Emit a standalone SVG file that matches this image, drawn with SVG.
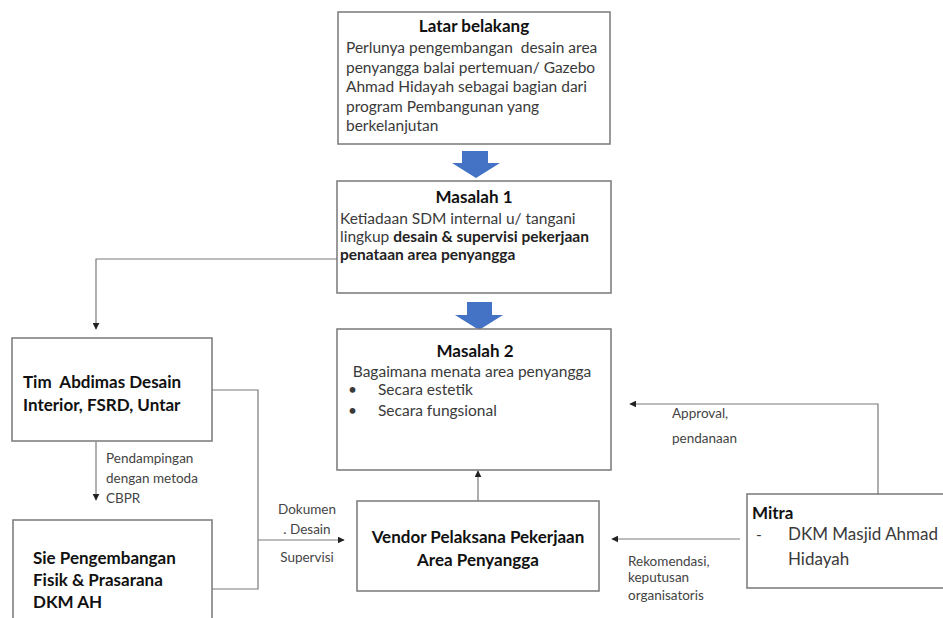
<svg xmlns="http://www.w3.org/2000/svg" width="943" height="618" viewBox="0 0 943 618">
<style>
.box{fill:#fff;stroke:#808080;stroke-width:1.6}
.t{font-family:Lato,"Liberation Sans",sans-serif;fill:#3a3a3a;font-size:15.5px}
.b{font-family:Lato,"Liberation Sans",sans-serif;fill:#111;font-size:17px;font-weight:bold}
.bb{font-weight:bold;fill:#222}
.lbl{font-family:Lato,"Liberation Sans",sans-serif;fill:#444;font-size:13.5px}
.c{fill:none;stroke:#7a7a7a;stroke-width:1.2}
.blue{fill:#4472C4}
</style>
<defs>
<marker id="ah" viewBox="0 0 10 10" refX="9" refY="5" markerWidth="7" markerHeight="7" markerUnits="userSpaceOnUse" orient="auto">
<path d="M0,0 L10,5 L0,10 z" fill="#222"/>
</marker>
</defs>
<rect width="943" height="618" fill="#fff"/>

<g id="latar">
<rect class="box" x="338" y="12" width="272" height="132"/>
<text class="b" x="474" y="32" text-anchor="middle">Latar belakang</text>
<text class="t" x="346" y="53" xml:space="preserve">Perlunya pengembangan  desain area</text>
<text class="t" x="346" y="73">penyangga balai pertemuan/ Gazebo</text>
<text class="t" x="346" y="92">Ahmad Hidayah sebagai bagian dari</text>
<text class="t" x="346" y="112">program Pembangunan yang</text>
<text class="t" x="346" y="131">berkelanjutan</text>
</g>

<g id="arrow1">
<path class="blue" d="M462,151 H488 V163 H500 L476,178 L452,163 H462 Z"/>
</g>

<g id="masalah1">
<rect class="box" x="337" y="181" width="274" height="112"/>
<text class="b" x="474" y="203" text-anchor="middle">Masalah 1</text>
<text class="t" x="340" y="224">Ketiadaan SDM internal u/ tangani</text>
<text class="t" x="340" y="242">lingkup <tspan class="bb">desain &amp; supervisi pekerjaan</tspan></text>
<text class="t bb" x="340" y="260">penataan area penyangga</text>
</g>

<g id="arrow2">
<path class="blue" d="M467,302 H492 V315 H503 L479,330 L455,315 H467 Z"/>
</g>

<g id="masalah2">
<rect class="box" x="337" y="329" width="274" height="141"/>
<text class="b" x="475" y="357" text-anchor="middle">Masalah 2</text>
<text class="t" x="472" y="377" text-anchor="middle">Bagaimana menata area penyangga</text>
<text class="t" x="348" y="395">•</text>
<text class="t" x="378" y="395">Secara estetik</text>
<text class="t" x="348" y="416">•</text>
<text class="t" x="378" y="416">Secara fungsional</text>
</g>

<g id="tim">
<rect class="box" x="12" y="338" width="200" height="103"/>
<text class="b" x="23" y="388" xml:space="preserve">Tim  Abdimas Desain</text>
<text class="b" x="23" y="411">Interior, FSRD, Untar</text>
</g>

<g id="sie">
<rect class="box" x="13" y="520" width="199" height="100"/>
<text class="b" x="33" y="564">Sie Pengembangan</text>
<text class="b" x="33" y="586">Fisik &amp; Prasarana</text>
<text class="b" x="33" y="608">DKM AH</text>
</g>

<g id="vendor">
<rect class="box" x="357" y="501" width="242" height="90"/>
<text class="b" x="478" y="543" text-anchor="middle">Vendor Pelaksana Pekerjaan</text>
<text class="b" x="478" y="566" text-anchor="middle">Area Penyangga</text>
</g>

<g id="mitra">
<rect class="box" x="747" y="494" width="205" height="94"/>
<text class="b" x="752" y="519">Mitra</text>
<text class="t" x="756" y="540">-</text>
<text class="t" x="788" y="540" style="font-size:17px">DKM Masjid Ahmad</text>
<text class="t" x="788" y="565" style="font-size:17px">Hidayah</text>
</g>

<g id="connectors">
<path class="c" d="M337,259 H96 V329" marker-end="url(#ah)"/>
<path class="c" d="M96,442 V500" marker-end="url(#ah)"/>
<path class="c" d="M212,390 H258 V589 H212"/>
<path class="c" d="M258,540 H344" marker-end="url(#ah)"/>
<path class="c" d="M478,501 V471" marker-end="url(#ah)"/>
<path class="c" d="M878,494 V404 H630" marker-end="url(#ah)"/>
<path class="c" d="M740,539 H612" marker-end="url(#ah)"/>
</g>

<g id="labels">
<text class="lbl" x="106" y="463">Pendampingan</text>
<text class="lbl" x="106" y="483">dengan metoda</text>
<text class="lbl" x="106" y="503">CBPR</text>
<text class="lbl" x="307" y="514" text-anchor="middle">Dokumen</text>
<text class="lbl" x="307" y="534" text-anchor="middle">. Desain</text>
<text class="lbl" x="307" y="562" text-anchor="middle">Supervisi</text>
<text class="lbl" x="672" y="418">Approval,</text>
<text class="lbl" x="672" y="443">pendanaan</text>
<text class="lbl" x="628" y="566">Rekomendasi,</text>
<text class="lbl" x="628" y="582">keputusan</text>
<text class="lbl" x="628" y="600">organisatoris</text>
</g>
</svg>
